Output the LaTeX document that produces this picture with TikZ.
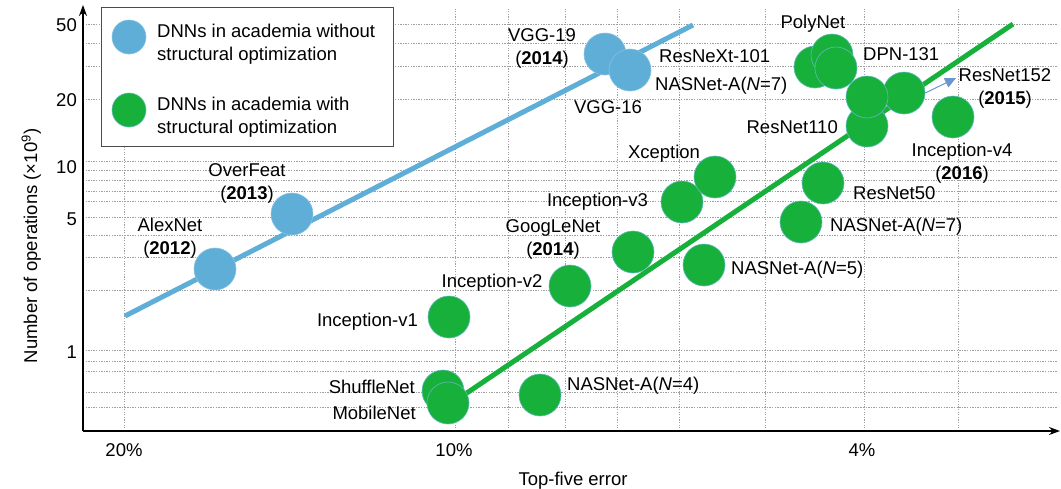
\documentclass[tikz,border=0pt]{standalone}
\usepackage{fontspec}
\setmainfont{Liberation Sans}
\usetikzlibrary{arrows.meta}
\definecolor{dnnblue}{RGB}{94,174,216}
\definecolor{dnngreen}{RGB}{22,176,58}
\definecolor{dotrim}{RGB}{95,185,190}
\definecolor{gridgray}{RGB}{160,160,160}
\definecolor{pointer}{RGB}{105,150,205}
\newcommand\lblsize{\fontsize{18.5}{23}\selectfont}

\begin{document}
\begin{tikzpicture}[x=1pt,y=-1pt,
  lbl/.style={font=\lblsize, inner sep=0pt, align=center},
  dot/.style={circle, minimum size=42pt, inner sep=0pt, line width=0.6pt},
  bluedot/.style={dot, fill=dnnblue, draw=dnnblue!75!white},
  greendot/.style={dot, fill=dnngreen, draw=dotrim},
  gridline/.style={draw=gridgray, line width=0.7pt, dash pattern=on 1.3pt off 1.3pt},
  axisline/.style={line width=1.4pt, -{Stealth[length=11pt,width=8pt]}},
  trend/.style={line width=5pt},
]
\useasboundingbox (0,0) rectangle (1061,488);

% dotted grid
\foreach \gy in {24,43,66,99,161,170,180,191,201,217,235,257,290,350,361,371,392,407}
  \draw[gridline] (83,\gy) -- (1058,\gy);
\foreach \gx in {124,455,508,565,617,679,765,864,958}
  \draw[gridline] (\gx,431) -- (\gx,8);

% axes
\coordinate (origin) at (83,431);
\coordinate (ytop) at (83,5);
\coordinate (xend) at (1060,431);
\draw[axisline] (origin) -- (ytop);
\draw[axisline] (origin) -- (xend);

% tick labels
\node[lbl, anchor=base east] (t50) at (77,31) {50};
\node[lbl, anchor=base east] (t20) at (77,106) {20};
\node[lbl, anchor=base east] (t10) at (77,173) {10};
\node[lbl, anchor=base east] (t5) at (77,225) {5};
\node[lbl, anchor=base east] (t1) at (77,358) {1};
\node[lbl, anchor=base] (x20) at (124,456) {20\%};
\node[lbl, anchor=base] (x10) at (454,456) {10\%};
\node[lbl, anchor=base] (x4) at (862,456) {4\%};
\node[lbl, anchor=base] (xtitle) at (573,485) {Top-five error};
\node[lbl, anchor=base, rotate=90] (ytitle) at (37,246) {Number of operations (×10\textsuperscript{9})};

% legend (two-line texts are placed by the baseline of their last line)
\node[draw=black!70, fill=white, line width=1pt, minimum width=292pt, minimum height=139pt,
      inner sep=0pt, anchor=north west] (legend) at (101,7) {};
\node[bluedot, minimum size=34pt] (keyblue) at (129,37) {};
\node[greendot, minimum size=34pt] (keygreen) at (129,110) {};
\node[lbl, align=left, anchor=base west] (keybluetext) at (157,60) {DNNs in academia without\\structural optimization};
\node[lbl, align=left, anchor=base west] (keygreentext) at (157,133) {DNNs in academia with\\structural optimization};

% trend lines
\coordinate (bluestart) at (125,316);
\coordinate (blueend) at (693,25);
\coordinate (greenstart) at (455,401);
\coordinate (greenend) at (1013,24);
\draw[trend, dnnblue] (bluestart) -- (blueend);
\draw[trend, dnngreen] (greenstart) -- (greenend);

% networks without structural optimization
\node[bluedot] (alexnet) at (215,269) {};
\node[bluedot] (overfeat) at (292,214) {};
\node[bluedot] (vgg19) at (605,54) {};
\node[bluedot] (vgg16) at (630,70) {};

% networks with structural optimization
\node[greendot] (incv1) at (449,317) {};
\node[greendot] (shuffle) at (443,391) {};
\node[greendot] (mobile) at (448,403) {};
\node[greendot] (nas4) at (540,395) {};
\node[greendot] (incv2) at (570,286) {};
\node[greendot] (googlenet) at (633,252) {};
\node[greendot] (incv3) at (682,202) {};
\node[greendot] (xception) at (715,177) {};
\node[greendot] (nas5) at (704,265) {};
\node[greendot] (nas7b) at (801,222) {};
\node[greendot] (res50) at (823,183) {};
\node[greendot] (polya) at (815,67) {};
\node[greendot] (polyb) at (832,55) {};
\node[greendot] (dpn) at (836,68) {};
\node[greendot] (res110) at (867,126) {};
\node[greendot] (c152) at (904,93) {};
\node[greendot] (cmid) at (867,97) {};
\node[greendot] (incv4) at (953,117) {};

% pointer to the ResNet152 label
\coordinate (ptr152) at (956,78);
\draw[pointer, line width=1pt, -{Triangle[length=11pt,width=10pt]}] (c152.east) -- (ptr152);

% labels
\node[lbl, anchor=base] (lalexnet) at (170,254) {AlexNet\\(\textbf{2012})};
\node[lbl, anchor=base] (loverfeat) at (247,199) {OverFeat\\(\textbf{2013})};
\node[lbl, anchor=base] (lvgg19) at (542,64) {VGG-19\\(\textbf{2014})};
\node[lbl, anchor=base west] (lresnext) at (659,62) {ResNeXt-101};
\node[lbl, anchor=base west] (lnas7a) at (655,90) {NASNet-A(\textit{N}=7)};
\node[lbl, anchor=base] (lvgg16) at (608,113) {VGG-16};
\node[lbl, anchor=base] (lpoly) at (813,28) {PolyNet};
\node[lbl, anchor=base west] (ldpn) at (863,60) {DPN-131};
\node[lbl, anchor=base] (l152) at (1005,104) {ResNet152\\(\textbf{2015})};
\node[lbl, anchor=base east] (l110) at (838,133) {ResNet110};
\node[lbl, anchor=base] (lincv4) at (962,179) {Inception-v4\\(\textbf{2016})};
\node[lbl, anchor=base] (lxception) at (664,158) {Xception};
\node[lbl, anchor=base east] (lincv3) at (648,206) {Inception-v3};
\node[lbl, anchor=base west] (lres50) at (853,199) {ResNet50};
\node[lbl, anchor=base west] (lnas7b) at (830,231) {NASNet-A(\textit{N}=7)};
\node[lbl, anchor=base] (lgoogle) at (553,255) {GoogLeNet\\(\textbf{2014})};
\node[lbl, anchor=base west] (lnas5) at (731,274) {NASNet-A(\textit{N}=5)};
\node[lbl, anchor=base] (lincv2) at (492,287) {Inception-v2};
\node[lbl, anchor=base east] (lincv1) at (418,326) {Inception-v1};
\node[lbl, anchor=base east] (lshuffle) at (415,393) {ShuffleNet};
\node[lbl, anchor=base east] (lmobile) at (416,419) {MobileNet};
\node[lbl, anchor=base west] (lnas4) at (567,390) {NASNet-A(\textit{N}=4)};
\end{tikzpicture}
\end{document}
